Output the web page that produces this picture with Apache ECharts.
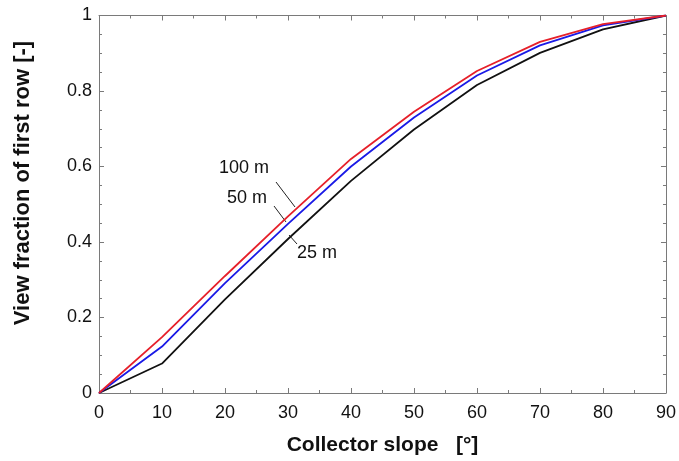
<!DOCTYPE html>
<html>
<head>
<meta charset="utf-8">
<script src="https://cdn.jsdelivr.net/npm/echarts@6/dist/echarts.min.js"></script>
<style>
  html, body { margin: 0; padding: 0; background: #fff; }
</style>
</head>
<body>
<div id="chart" style="width: 679px; height: 461px"></div>
<script>
// collector slope in degrees
const slopes = [0, 10, 20, 30, 40, 50, 60, 70, 80, 90];
// view fraction of first row per row distance
const view100 = [0, 0.148, 0.31, 0.468, 0.62, 0.745, 0.853, 0.93, 0.977, 1];
const view50 = [0, 0.123, 0.291, 0.448, 0.60, 0.73, 0.841, 0.921, 0.974, 1];
const view25 = [0, 0.078, 0.248, 0.408, 0.562, 0.698, 0.816, 0.901, 0.963, 1];

const font = "Liberation Sans, Arial, sans-serif";
const axisColor = "#7a7a7a";

function pairs(ys) {
  return slopes.map((x, i) => [x, ys[i]]);
}

function frameAxis(extra) {
  return Object.assign({
    type: "value",
    axisLine: { show: true, onZero: false, lineStyle: { color: axisColor, width: 1 } },
    axisTick: { show: true, inside: true, length: 5, lineStyle: { color: axisColor } },
    minorTick: { show: true, length: 3, lineStyle: { color: axisColor } },
    splitLine: { show: false },
    axisLabel: { show: false },
  }, extra);
}

const chart = echarts.init(document.getElementById("chart"));
const option = {
  animation: false,
  grid: { left: 99, top: 15.5, right: 10, bottom: 68 },
  xAxis: [
    frameAxis({
      min: 0, max: 90, interval: 10,
      minorTick: { show: true, splitNumber: 2, length: 3, lineStyle: { color: axisColor } },
      axisLabel: { show: true, color: "#111", fontSize: 18, fontFamily: font, margin: 11 },
      name: "Collector slope   [°]",
      nameLocation: "middle",
      nameGap: 42,
      nameTextStyle: { color: "#111", fontSize: 21, fontWeight: "bold", fontFamily: font },
    }),
    frameAxis({
      position: "top", min: 0, max: 90, interval: 10,
      minorTick: { show: true, splitNumber: 2, length: 3, lineStyle: { color: axisColor } },
    }),
  ],
  yAxis: [
    frameAxis({
      min: 0, max: 1, interval: 0.2,
      minorTick: { show: true, splitNumber: 4, length: 3, lineStyle: { color: axisColor } },
      axisLabel: { show: true, color: "#111", fontSize: 18, fontFamily: font, margin: 7 },
    }),
    frameAxis({
      position: "right", min: 0, max: 1, interval: 0.2,
      minorTick: { show: true, splitNumber: 4, length: 3, lineStyle: { color: axisColor } },
    }),
  ],
  series: [
    {
      name: "25 m", type: "line", data: pairs(view25), showSymbol: false,
      lineStyle: { color: "#111111", width: 1.8 }, z: 3,
    },
    {
      name: "50 m", type: "line", data: pairs(view50), showSymbol: false,
      lineStyle: { color: "#1a1ae6", width: 1.8 }, z: 4,
    },
    {
      name: "100 m", type: "line", data: pairs(view100), showSymbol: false,
      lineStyle: { color: "#e6202a", width: 1.8 }, z: 5,
    },
  ],
  graphic: [
    {
      type: "text", x: 23, y: 183, rotation: Math.PI / 2,
      style: {
        text: "View fraction of first row [-]", fontSize: 22, fontWeight: "bold",
        fontFamily: font, fill: "#111", align: "center", verticalAlign: "middle",
      },
    },
    { type: "text", left: 219, top: 159, style: { text: "100 m", fontSize: 18, fontFamily: font, fill: "#111" } },
    { type: "line", shape: { x1: 276, y1: 182, x2: 295, y2: 207 }, style: { stroke: "#222", lineWidth: 1 } },
    { type: "text", left: 227, top: 189, style: { text: "50 m", fontSize: 18, fontFamily: font, fill: "#111" } },
    { type: "line", shape: { x1: 274, y1: 206, x2: 286, y2: 222 }, style: { stroke: "#222", lineWidth: 1 } },
    { type: "text", left: 297, top: 244, style: { text: "25 m", fontSize: 18, fontFamily: font, fill: "#111" } },
    { type: "line", shape: { x1: 289, y1: 235, x2: 297, y2: 244 }, style: { stroke: "#222", lineWidth: 1 } },
  ],
};
chart.setOption(option);
</script>
</body>
</html>
